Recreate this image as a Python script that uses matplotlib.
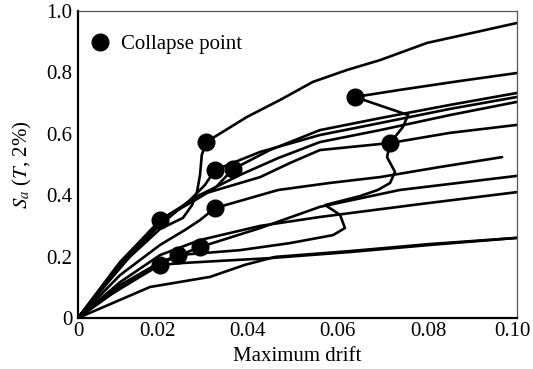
import matplotlib.pyplot as plt
from matplotlib.transforms import ScaledTranslation

plt.rcParams['font.family'] = ['Liberation Serif', 'DejaVu Serif']
plt.rcParams['mathtext.fontset'] = 'stix'

# IDA curves: maximum drift vs Sa(T, 2%)
drift_1 = [0, 0.0096, 0.0187, 0.0239, 0.0260, 0.0271, 0.0278, 0.0282, 0.0292, 0.0385,
           0.0460, 0.0535, 0.0613, 0.0688, 0.0795, 0.0909, 0.1000]
sa_1 = [0, 0.170, 0.290, 0.326, 0.368, 0.410, 0.466, 0.531, 0.573, 0.655,
        0.710, 0.769, 0.808, 0.840, 0.896, 0.932, 0.961]

drift_2 = [0, 0.0096, 0.0164, 0.0228, 0.0369, 0.0483, 0.0581, 0.0608, 0.0597, 0.0563,
           0.0642, 0.0683, 0.0711, 0.0722, 0.0704, 0.0711, 0.0740, 0.0752, 0.0631,
           0.0733, 0.0870, 0.1000]
sa_2 = [0, 0.098, 0.156, 0.205, 0.221, 0.244, 0.270, 0.293, 0.336, 0.368,
        0.397, 0.417, 0.440, 0.476, 0.524, 0.570, 0.622, 0.661, 0.720,
        0.743, 0.772, 0.798]

drift_3 = [0, 0.0096, 0.0187, 0.0278, 0.0415, 0.0483, 0.0551, 0.0711, 0.0847, 0.1000]
sa_3 = [0, 0.182, 0.313, 0.401, 0.459, 0.505, 0.547, 0.570, 0.603, 0.629]

drift_4 = [0, 0.0096, 0.0187, 0.0255, 0.0289, 0.0312, 0.0415, 0.0551, 0.0688, 0.0847, 0.1000]
sa_4 = [0, 0.173, 0.303, 0.384, 0.433, 0.482, 0.541, 0.596, 0.635, 0.681, 0.720]

drift_5 = [0, 0.0096, 0.0187, 0.0267, 0.0312, 0.0353, 0.0437, 0.0551, 0.0688, 0.0847, 0.1000]
sa_5 = [0, 0.182, 0.319, 0.384, 0.423, 0.485, 0.547, 0.612, 0.651, 0.694, 0.733]

drift_6 = [0, 0.0073, 0.0141, 0.0187, 0.0278, 0.0369, 0.0456, 0.0551, 0.0688, 0.0847, 0.1000]
sa_6 = [0, 0.124, 0.238, 0.319, 0.401, 0.466, 0.521, 0.573, 0.612, 0.661, 0.704]

drift_7 = [0, 0.0096, 0.0187, 0.0244, 0.0278, 0.0312, 0.0456, 0.0574, 0.0688, 0.0825, 0.0966]
sa_7 = [0, 0.140, 0.238, 0.287, 0.319, 0.358, 0.417, 0.440, 0.459, 0.492, 0.524]

drift_8 = [0, 0.0096, 0.0187, 0.0278, 0.0415, 0.0551, 0.0779, 0.1000]
sa_8 = [0, 0.117, 0.205, 0.254, 0.300, 0.329, 0.371, 0.410]

drift_9 = [0, 0.0096, 0.0187, 0.0244, 0.0278, 0.0415, 0.0551, 0.0733, 0.1000]
sa_9 = [0, 0.107, 0.182, 0.212, 0.231, 0.293, 0.362, 0.417, 0.463]

drift_10 = [0, 0.0073, 0.0141, 0.0187, 0.0237, 0.0323, 0.0437, 0.0620, 0.0802, 0.1000]
sa_10 = [0, 0.075, 0.134, 0.173, 0.179, 0.186, 0.195, 0.215, 0.238, 0.261]

drift_11 = [0, 0.0164, 0.0301, 0.0380, 0.0449, 0.0620, 0.0802, 0.1000]
sa_11 = [0, 0.101, 0.134, 0.173, 0.199, 0.218, 0.241, 0.261]

# collapse points
collapse_drift = [0.0292, 0.0312, 0.0353, 0.0187, 0.0312, 0.0278, 0.0228, 0.0187, 0.0631, 0.0711]
collapse_sa = [0.573, 0.482, 0.485, 0.319, 0.358, 0.231, 0.205, 0.173, 0.720, 0.570]

x_ticks = [0, 0.02, 0.04, 0.06, 0.08, 0.10]
x_ticklabels = ['0', '0.02', '0.04', '0.06', '0.08', '0.10']
y_ticks = [0, 0.2, 0.4, 0.6, 0.8, 1.0]
y_ticklabels = ['0', '0.2', '0.4', '0.6', '0.8', '1.0']

curves = [(drift_1, sa_1), (drift_2, sa_2), (drift_3, sa_3), (drift_4, sa_4),
          (drift_5, sa_5), (drift_6, sa_6), (drift_7, sa_7), (drift_8, sa_8),
          (drift_9, sa_9), (drift_10, sa_10), (drift_11, sa_11)]

fig = plt.figure(figsize=(5.33, 3.69), dpi=100)
ax = fig.add_axes([0.1463, 0.1382, 0.8237, 0.832])

for d, s in curves:
    ax.plot(d, s, color='black', lw=1.9, solid_capstyle='round', zorder=2)

ax.plot(collapse_drift, collapse_sa, 'o', color='black', ms=12, zorder=3,
        label='Collapse point')

ax.set_xlim(0, 0.10)
ax.set_ylim(0, 1.0)
ax.set_xticks(x_ticks)
ax.set_xticklabels(x_ticklabels)
ax.set_yticks(y_ticks)
ax.set_yticklabels(y_ticklabels)
ax.tick_params(length=0, labelsize=15, pad=4)
ax.tick_params(axis='x', pad=3)

# nudge x tick labels a little to the left (px)
shifts = [0, -8, -6, -4, -1, -5]
for lab, dx in zip(ax.get_xticklabels(), shifts):
    lab.set_transform(lab.get_transform() + ScaledTranslation(dx / 100, 0, fig.dpi_scale_trans))

ax.set_xlabel('Maximum drift', fontsize=15, labelpad=4)
ax.set_ylabel(r'$S_a$ ($T$, 2%)', fontsize=15, labelpad=9)

for side in ['left', 'bottom']:
    ax.spines[side].set_linewidth(1.6)
    ax.spines[side].set_color('black')
for side in ['top', 'right']:
    ax.spines[side].set_linewidth(0.9)
    ax.spines[side].set_color('#555555')

ax.legend(loc='upper left', bbox_to_anchor=(-0.025, 0.965), frameon=False,
          fontsize=15, handletextpad=0.0, borderaxespad=0.2, markerscale=1.0)

fig.savefig('out.png', dpi=100)
